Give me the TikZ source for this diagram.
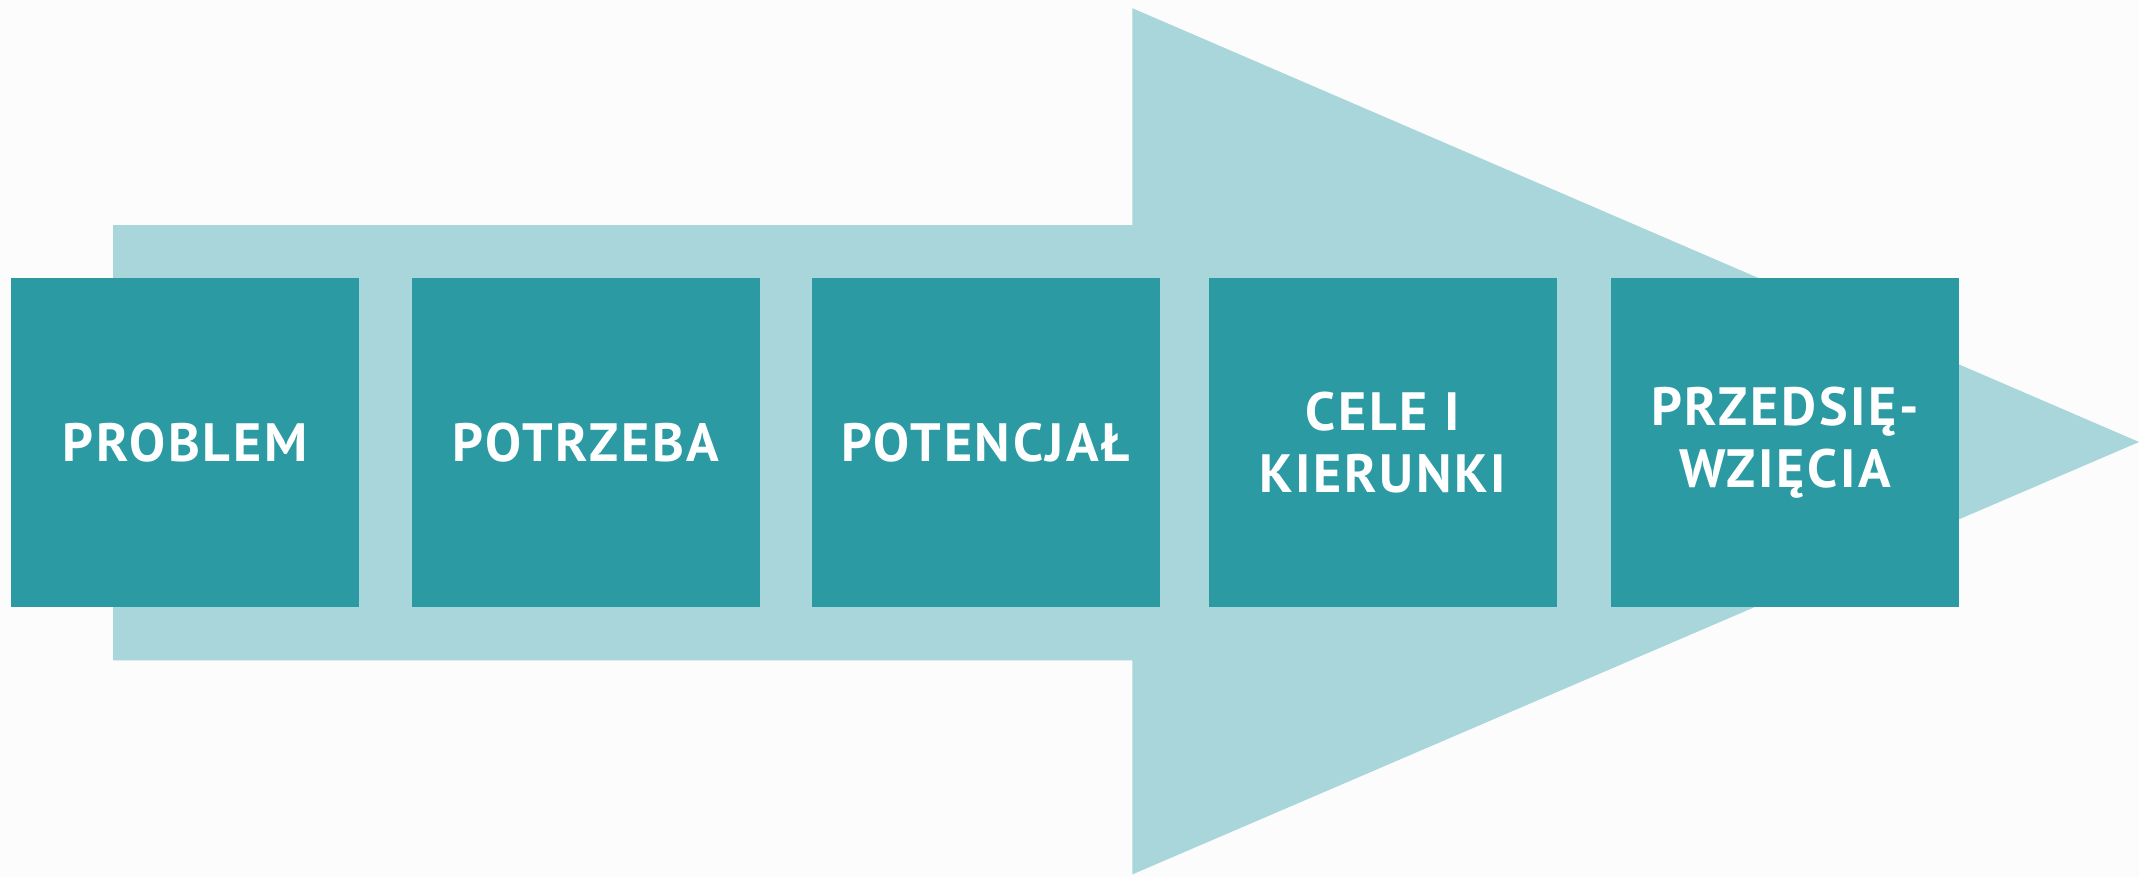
\documentclass[tikz,border=0pt]{standalone}
\usepackage{fontspec}
\setmainfont{PT Sans}[LetterSpace=5]
\usetikzlibrary{positioning}

\definecolor{arrowlight}{RGB}{169,214,218}
\definecolor{boxteal}{RGB}{43,154,163}
\definecolor{paper}{RGB}{252,252,252}

\tikzset{
  stagebox/.style={fill=boxteal, text=white, minimum width=5.1cm, minimum height=4.82cm,
                   inner sep=0pt, align=center, font=\fontsize{22.5}{26}\selectfont\bfseries},
}

\begin{document}
\begin{tikzpicture}
          \coordinate (c1) at (0,0);
          \coordinate (c2) at (31.36,12.86);
          \fill[paper] (c1) rectangle (c2);
          \useasboundingbox (c1) rectangle (c2);
          % arrow outline
          \coordinate (a1) at (1.66,3.18);
          \coordinate (a2) at (16.6,3.18);
          \coordinate (a3) at (16.6,0.04);
          \coordinate (a4) at (31.36,6.38);
          \coordinate (a5) at (16.6,12.74);
          \coordinate (a6) at (16.6,9.56);
          \coordinate (a7) at (1.66,9.56);
          \fill[arrowlight] (a1) -- (a2) -- (a3) -- (a4) -- (a5) -- (a6) -- (a7) -- cycle;
        \node[stagebox] (problem)   at (2.71,6.37)  {PROBLEM};
        \node[stagebox] (potrzeba)  at (8.59,6.37)  {POTRZEBA};
        \node[stagebox] (potencjal) at (14.45,6.37) {POTENCJAŁ};
        \node[stagebox] (cele)      at (20.27,6.37) {CELE I\\KIERUNKI};
        \node[stagebox] (przedsiew) at (26.17,6.37) {PRZEDSIĘ-\\WZIĘCIA};
        \end{tikzpicture}
\end{document}
